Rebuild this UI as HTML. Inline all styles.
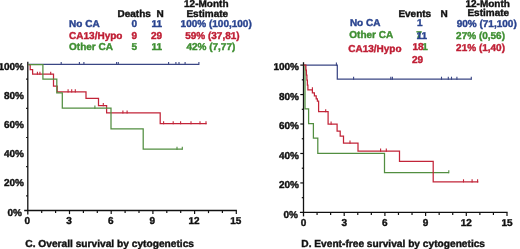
<!DOCTYPE html>
<html><head><meta charset="utf-8"><style>
html,body{margin:0;padding:0;background:#fff;width:520px;height:249px;overflow:hidden;position:relative;font-family:"Liberation Sans", sans-serif;}
</style></head><body>
<svg width="520" height="249" viewBox="0 0 520 249" style="position:absolute;left:0;top:0;font-family:&quot;Liberation Sans&quot;, sans-serif;filter:blur(0.3px)" text-rendering="geometricPrecision">
<text x="117.5" y="16.6" fill="#111" stroke="#111" stroke-width="0.4" font-size="10" font-weight="bold" text-anchor="start" >Deaths</text>
<text x="156.4" y="16.6" fill="#111" stroke="#111" stroke-width="0.4" font-size="10" font-weight="bold" text-anchor="start" >N</text>
<text x="206.3" y="7.0" fill="#111" stroke="#111" stroke-width="0.4" font-size="10" font-weight="bold" text-anchor="middle" >12-Month</text>
<text x="207.3" y="16.6" fill="#111" stroke="#111" stroke-width="0.4" font-size="10" font-weight="bold" text-anchor="middle" >Estimate</text>
<text x="69.1" y="27.4" fill="#29438f" stroke="#29438f" stroke-width="0.4" font-size="10" font-weight="bold" text-anchor="start" >No CA</text>
<text x="131.4" y="27.4" fill="#29438f" stroke="#29438f" stroke-width="0.4" font-size="10" font-weight="bold" text-anchor="start" >0</text>
<text x="151.6" y="27.4" fill="#29438f" stroke="#29438f" stroke-width="0.4" font-size="10" font-weight="bold" text-anchor="start" >11</text>
<text x="180.6" y="27.4" fill="#29438f" stroke="#29438f" stroke-width="0.4" font-size="10" font-weight="bold" text-anchor="start" >100% (100,100)</text>
<text x="69.1" y="38.9" fill="#bf1e34" stroke="#bf1e34" stroke-width="0.4" font-size="10" font-weight="bold" text-anchor="start" >CA13/Hypo</text>
<text x="131.4" y="38.9" fill="#bf1e34" stroke="#bf1e34" stroke-width="0.4" font-size="10" font-weight="bold" text-anchor="start" >9</text>
<text x="151.0" y="38.9" fill="#bf1e34" stroke="#bf1e34" stroke-width="0.4" font-size="10" font-weight="bold" text-anchor="start" >29</text>
<text x="185.2" y="38.9" fill="#bf1e34" stroke="#bf1e34" stroke-width="0.4" font-size="10" font-weight="bold" text-anchor="start" >59% (37,81)</text>
<text x="69.1" y="50.0" fill="#3e8e31" stroke="#3e8e31" stroke-width="0.4" font-size="10" font-weight="bold" text-anchor="start" >Other CA</text>
<text x="131.4" y="50.0" fill="#3e8e31" stroke="#3e8e31" stroke-width="0.4" font-size="10" font-weight="bold" text-anchor="start" >5</text>
<text x="151.6" y="50.0" fill="#3e8e31" stroke="#3e8e31" stroke-width="0.4" font-size="10" font-weight="bold" text-anchor="start" >11</text>
<text x="186.4" y="50.0" fill="#3e8e31" stroke="#3e8e31" stroke-width="0.4" font-size="10" font-weight="bold" text-anchor="start" >42% (7,77)</text>
<line x1="27.8" y1="61.7" x2="27.8" y2="214.5" stroke="#111" stroke-width="1.3"/>
<line x1="24.2" y1="210.5" x2="236.9" y2="210.5" stroke="#111" stroke-width="1.3"/>
<line x1="26.1" y1="195.90" x2="27.8" y2="195.90" stroke="#111" stroke-width="1.2"/>
<line x1="26.1" y1="166.70" x2="27.8" y2="166.70" stroke="#111" stroke-width="1.2"/>
<line x1="26.1" y1="137.50" x2="27.8" y2="137.50" stroke="#111" stroke-width="1.2"/>
<line x1="26.1" y1="108.30" x2="27.8" y2="108.30" stroke="#111" stroke-width="1.2"/>
<line x1="26.1" y1="79.10" x2="27.8" y2="79.10" stroke="#111" stroke-width="1.2"/>
<text x="22.00" y="215.60" fill="#111" stroke="#111" stroke-width="0.4" font-size="10" font-weight="bold" text-anchor="end" >0%</text>
<text x="24.00" y="186.40" fill="#111" stroke="#111" stroke-width="0.4" font-size="10" font-weight="bold" text-anchor="end" >20%</text>
<text x="24.00" y="157.20" fill="#111" stroke="#111" stroke-width="0.4" font-size="10" font-weight="bold" text-anchor="end" >40%</text>
<text x="24.00" y="128.00" fill="#111" stroke="#111" stroke-width="0.4" font-size="10" font-weight="bold" text-anchor="end" >60%</text>
<text x="24.00" y="98.80" fill="#111" stroke="#111" stroke-width="0.4" font-size="10" font-weight="bold" text-anchor="end" >80%</text>
<text x="24.00" y="69.60" fill="#111" stroke="#111" stroke-width="0.4" font-size="10" font-weight="bold" text-anchor="end" >100%</text>
<line x1="41.70" y1="210.5" x2="41.70" y2="213.1" stroke="#111" stroke-width="1.2"/>
<line x1="55.60" y1="210.5" x2="55.60" y2="213.1" stroke="#111" stroke-width="1.2"/>
<line x1="69.50" y1="210.5" x2="69.50" y2="214.1" stroke="#111" stroke-width="1.2"/>
<line x1="83.40" y1="210.5" x2="83.40" y2="213.1" stroke="#111" stroke-width="1.2"/>
<line x1="97.30" y1="210.5" x2="97.30" y2="213.1" stroke="#111" stroke-width="1.2"/>
<line x1="111.20" y1="210.5" x2="111.20" y2="214.1" stroke="#111" stroke-width="1.2"/>
<line x1="125.10" y1="210.5" x2="125.10" y2="213.1" stroke="#111" stroke-width="1.2"/>
<line x1="139.00" y1="210.5" x2="139.00" y2="213.1" stroke="#111" stroke-width="1.2"/>
<line x1="152.90" y1="210.5" x2="152.90" y2="214.1" stroke="#111" stroke-width="1.2"/>
<line x1="166.80" y1="210.5" x2="166.80" y2="213.1" stroke="#111" stroke-width="1.2"/>
<line x1="180.70" y1="210.5" x2="180.70" y2="213.1" stroke="#111" stroke-width="1.2"/>
<line x1="194.60" y1="210.5" x2="194.60" y2="214.1" stroke="#111" stroke-width="1.2"/>
<line x1="208.50" y1="210.5" x2="208.50" y2="213.1" stroke="#111" stroke-width="1.2"/>
<line x1="222.40" y1="210.5" x2="222.40" y2="213.1" stroke="#111" stroke-width="1.2"/>
<line x1="236.30" y1="210.5" x2="236.30" y2="214.1" stroke="#111" stroke-width="1.2"/>
<text x="27.30" y="224.2" fill="#111" stroke="#111" stroke-width="0.4" font-size="10" font-weight="bold" text-anchor="middle" >0</text>
<text x="69.00" y="224.2" fill="#111" stroke="#111" stroke-width="0.4" font-size="10" font-weight="bold" text-anchor="middle" >3</text>
<text x="110.70" y="224.2" fill="#111" stroke="#111" stroke-width="0.4" font-size="10" font-weight="bold" text-anchor="middle" >6</text>
<text x="152.40" y="224.2" fill="#111" stroke="#111" stroke-width="0.4" font-size="10" font-weight="bold" text-anchor="middle" >9</text>
<text x="194.10" y="224.2" fill="#111" stroke="#111" stroke-width="0.4" font-size="10" font-weight="bold" text-anchor="middle" >12</text>
<text x="235.80" y="224.2" fill="#111" stroke="#111" stroke-width="0.4" font-size="10" font-weight="bold" text-anchor="middle" >15</text>
<path d="M28.3,64.4 H199" fill="none" stroke="#3a4684" stroke-width="1.25" stroke-linejoin="miter"/>
<line x1="61.2" y1="65.025" x2="61.2" y2="61.900000000000006" stroke="#3a4684" stroke-width="1.1"/>
<line x1="79.4" y1="65.025" x2="79.4" y2="61.900000000000006" stroke="#3a4684" stroke-width="1.1"/>
<line x1="83.9" y1="65.025" x2="83.9" y2="61.900000000000006" stroke="#3a4684" stroke-width="1.1"/>
<line x1="116.6" y1="65.025" x2="116.6" y2="61.900000000000006" stroke="#3a4684" stroke-width="1.1"/>
<line x1="118.3" y1="65.025" x2="118.3" y2="61.900000000000006" stroke="#3a4684" stroke-width="1.1"/>
<line x1="168.6" y1="65.025" x2="168.6" y2="61.900000000000006" stroke="#3a4684" stroke-width="1.1"/>
<line x1="175.9" y1="65.025" x2="175.9" y2="61.900000000000006" stroke="#3a4684" stroke-width="1.1"/>
<line x1="179.0" y1="65.025" x2="179.0" y2="61.900000000000006" stroke="#3a4684" stroke-width="1.1"/>
<line x1="185.1" y1="65.025" x2="185.1" y2="61.900000000000006" stroke="#3a4684" stroke-width="1.1"/>
<line x1="198.9" y1="65.025" x2="198.9" y2="61.900000000000006" stroke="#3a4684" stroke-width="1.1"/>
<path d="M28.3,64.6 H30.2 V69.6 H32.6 V74.2 H53.5 V86.0 H57.2 V91.8 H86.0 V98.4 H98.5 V105.5 H106.6 V112.9 H160.2 V123.7 H206.6" fill="none" stroke="#c22438" stroke-width="1.25" stroke-linejoin="miter"/>
<line x1="37.4" y1="74.825" x2="37.4" y2="71.7" stroke="#c22438" stroke-width="1.1"/>
<line x1="39.9" y1="74.825" x2="39.9" y2="71.7" stroke="#c22438" stroke-width="1.1"/>
<line x1="50.7" y1="74.825" x2="50.7" y2="71.7" stroke="#c22438" stroke-width="1.1"/>
<line x1="68.1" y1="92.425" x2="68.1" y2="89.3" stroke="#c22438" stroke-width="1.1"/>
<line x1="71.7" y1="92.425" x2="71.7" y2="89.3" stroke="#c22438" stroke-width="1.1"/>
<line x1="75.3" y1="92.425" x2="75.3" y2="89.3" stroke="#c22438" stroke-width="1.1"/>
<line x1="103.3" y1="106.125" x2="103.3" y2="103.0" stroke="#c22438" stroke-width="1.1"/>
<line x1="122.9" y1="113.525" x2="122.9" y2="110.4" stroke="#c22438" stroke-width="1.1"/>
<line x1="127.1" y1="113.525" x2="127.1" y2="110.4" stroke="#c22438" stroke-width="1.1"/>
<line x1="163.6" y1="124.325" x2="163.6" y2="121.2" stroke="#c22438" stroke-width="1.1"/>
<line x1="173.2" y1="124.325" x2="173.2" y2="121.2" stroke="#c22438" stroke-width="1.1"/>
<line x1="180.6" y1="124.325" x2="180.6" y2="121.2" stroke="#c22438" stroke-width="1.1"/>
<line x1="191.0" y1="124.325" x2="191.0" y2="121.2" stroke="#c22438" stroke-width="1.1"/>
<line x1="200.0" y1="124.325" x2="200.0" y2="121.2" stroke="#c22438" stroke-width="1.1"/>
<line x1="206.0" y1="124.325" x2="206.0" y2="121.2" stroke="#c22438" stroke-width="1.1"/>
<path d="M28.3,64.6 H42.9 V79.0 H56.8 V92.8 H62.3 V108.1 H111.0 V128.9 H143.2 V149.2 H182.5" fill="none" stroke="#528e40" stroke-width="1.25" stroke-linejoin="miter"/>
<line x1="94.9" y1="108.725" x2="94.9" y2="105.6" stroke="#528e40" stroke-width="1.1"/>
<line x1="177.0" y1="149.825" x2="177.0" y2="146.7" stroke="#528e40" stroke-width="1.1"/>
<line x1="182.3" y1="149.825" x2="182.3" y2="146.7" stroke="#528e40" stroke-width="1.1"/>
<text x="25.3" y="246.9" fill="#111" stroke="#111" stroke-width="0.4" font-size="10.2" font-weight="bold" text-anchor="start" >C. Overall survival by cytogenetics</text>
<text x="398.4" y="16.6" fill="#111" stroke="#111" stroke-width="0.4" font-size="10" font-weight="bold" text-anchor="start" >Events</text>
<text x="440.4" y="16.6" fill="#111" stroke="#111" stroke-width="0.4" font-size="10" font-weight="bold" text-anchor="start" >N</text>
<text x="487.7" y="7.1" fill="#111" stroke="#111" stroke-width="0.4" font-size="10" font-weight="bold" text-anchor="middle" >12-Month</text>
<text x="488.3" y="16.4" fill="#111" stroke="#111" stroke-width="0.4" font-size="10" font-weight="bold" text-anchor="middle" >Estimate</text>
<text x="349.9" y="26.3" fill="#29438f" stroke="#29438f" stroke-width="0.4" font-size="10" font-weight="bold" text-anchor="start" >No CA</text>
<text x="417.1" y="26.3" fill="#29438f" stroke="#29438f" stroke-width="0.4" font-size="10" font-weight="bold" text-anchor="start" >1</text>
<text x="456.7" y="26.6" fill="#29438f" stroke="#29438f" stroke-width="0.4" font-size="10" font-weight="bold" text-anchor="start" >90% (71,100)</text>
<text x="349.3" y="37.6" fill="#3e8e31" stroke="#3e8e31" stroke-width="0.4" font-size="10" font-weight="bold" text-anchor="start" >Other CA</text>
<text x="416.3" y="38.4" fill="#3e8e31" stroke="#3e8e31" stroke-width="0.4" font-size="10" font-weight="bold" text-anchor="start" >7</text>
<text x="416.5" y="38.6" fill="#29438f" stroke="#29438f" stroke-width="0.4" font-size="10" font-weight="bold" text-anchor="start" >11</text>
<text x="456.1" y="39.1" fill="#3e8e31" stroke="#3e8e31" stroke-width="0.4" font-size="10" font-weight="bold" text-anchor="start" >27% (0,56)</text>
<text x="348.2" y="51.6" fill="#bf1e34" stroke="#bf1e34" stroke-width="0.4" font-size="10" font-weight="bold" text-anchor="start" >CA13/Hypo</text>
<text x="422.3" y="49.6" fill="#3e8e31" stroke="#3e8e31" stroke-width="0.4" font-size="10" font-weight="bold" text-anchor="start" >1</text>
<text x="412.4" y="50.4" fill="#bf1e34" stroke="#bf1e34" stroke-width="0.4" font-size="10" font-weight="bold" text-anchor="start" >18</text>
<text x="456.1" y="51.2" fill="#bf1e34" stroke="#bf1e34" stroke-width="0.4" font-size="10" font-weight="bold" text-anchor="start" >21% (1,40)</text>
<text x="411.9" y="63.0" fill="#bf1e34" stroke="#bf1e34" stroke-width="0.4" font-size="10" font-weight="bold" text-anchor="start" >29</text>
<line x1="303.5" y1="62.2" x2="303.5" y2="216.4" stroke="#111" stroke-width="1.3"/>
<line x1="299.9" y1="212.4" x2="507.6" y2="212.4" stroke="#111" stroke-width="1.3"/>
<line x1="301.8" y1="197.67" x2="303.5" y2="197.67" stroke="#111" stroke-width="1.2"/>
<line x1="300.3" y1="182.94" x2="303.5" y2="182.94" stroke="#111" stroke-width="1.2"/>
<line x1="301.8" y1="168.21" x2="303.5" y2="168.21" stroke="#111" stroke-width="1.2"/>
<line x1="300.3" y1="153.48" x2="303.5" y2="153.48" stroke="#111" stroke-width="1.2"/>
<line x1="301.8" y1="138.75" x2="303.5" y2="138.75" stroke="#111" stroke-width="1.2"/>
<line x1="300.3" y1="124.02" x2="303.5" y2="124.02" stroke="#111" stroke-width="1.2"/>
<line x1="301.8" y1="109.29" x2="303.5" y2="109.29" stroke="#111" stroke-width="1.2"/>
<line x1="300.3" y1="94.56" x2="303.5" y2="94.56" stroke="#111" stroke-width="1.2"/>
<line x1="301.8" y1="79.83" x2="303.5" y2="79.83" stroke="#111" stroke-width="1.2"/>
<line x1="300.3" y1="65.10" x2="303.5" y2="65.10" stroke="#111" stroke-width="1.2"/>
<text x="298.00" y="217.50" fill="#111" stroke="#111" stroke-width="0.4" font-size="10" font-weight="bold" text-anchor="end" >0%</text>
<text x="299.00" y="188.04" fill="#111" stroke="#111" stroke-width="0.4" font-size="10" font-weight="bold" text-anchor="end" >20%</text>
<text x="299.00" y="158.58" fill="#111" stroke="#111" stroke-width="0.4" font-size="10" font-weight="bold" text-anchor="end" >40%</text>
<text x="299.00" y="129.12" fill="#111" stroke="#111" stroke-width="0.4" font-size="10" font-weight="bold" text-anchor="end" >60%</text>
<text x="299.00" y="99.66" fill="#111" stroke="#111" stroke-width="0.4" font-size="10" font-weight="bold" text-anchor="end" >80%</text>
<text x="299.00" y="70.20" fill="#111" stroke="#111" stroke-width="0.4" font-size="10" font-weight="bold" text-anchor="end" >100%</text>
<line x1="317.07" y1="212.4" x2="317.07" y2="215.0" stroke="#111" stroke-width="1.2"/>
<line x1="330.63" y1="212.4" x2="330.63" y2="215.0" stroke="#111" stroke-width="1.2"/>
<line x1="344.20" y1="212.4" x2="344.20" y2="216.0" stroke="#111" stroke-width="1.2"/>
<line x1="357.77" y1="212.4" x2="357.77" y2="215.0" stroke="#111" stroke-width="1.2"/>
<line x1="371.33" y1="212.4" x2="371.33" y2="215.0" stroke="#111" stroke-width="1.2"/>
<line x1="384.90" y1="212.4" x2="384.90" y2="216.0" stroke="#111" stroke-width="1.2"/>
<line x1="398.47" y1="212.4" x2="398.47" y2="215.0" stroke="#111" stroke-width="1.2"/>
<line x1="412.03" y1="212.4" x2="412.03" y2="215.0" stroke="#111" stroke-width="1.2"/>
<line x1="425.60" y1="212.4" x2="425.60" y2="216.0" stroke="#111" stroke-width="1.2"/>
<line x1="439.17" y1="212.4" x2="439.17" y2="215.0" stroke="#111" stroke-width="1.2"/>
<line x1="452.73" y1="212.4" x2="452.73" y2="215.0" stroke="#111" stroke-width="1.2"/>
<line x1="466.30" y1="212.4" x2="466.30" y2="216.0" stroke="#111" stroke-width="1.2"/>
<line x1="479.87" y1="212.4" x2="479.87" y2="215.0" stroke="#111" stroke-width="1.2"/>
<line x1="493.43" y1="212.4" x2="493.43" y2="215.0" stroke="#111" stroke-width="1.2"/>
<line x1="507.00" y1="212.4" x2="507.00" y2="216.0" stroke="#111" stroke-width="1.2"/>
<text x="303.50" y="226.0" fill="#111" stroke="#111" stroke-width="0.4" font-size="10" font-weight="bold" text-anchor="middle" >0</text>
<text x="344.20" y="226.0" fill="#111" stroke="#111" stroke-width="0.4" font-size="10" font-weight="bold" text-anchor="middle" >3</text>
<text x="384.90" y="226.0" fill="#111" stroke="#111" stroke-width="0.4" font-size="10" font-weight="bold" text-anchor="middle" >6</text>
<text x="425.60" y="226.0" fill="#111" stroke="#111" stroke-width="0.4" font-size="10" font-weight="bold" text-anchor="middle" >9</text>
<text x="466.30" y="226.0" fill="#111" stroke="#111" stroke-width="0.4" font-size="10" font-weight="bold" text-anchor="middle" >12</text>
<text x="507.00" y="226.0" fill="#111" stroke="#111" stroke-width="0.4" font-size="10" font-weight="bold" text-anchor="middle" >15</text>
<path d="M303.9,65.0 H337.3 V79.2 H471.5" fill="none" stroke="#3a4684" stroke-width="1.25" stroke-linejoin="miter"/>
<line x1="336.4" y1="65.625" x2="336.4" y2="62.5" stroke="#3a4684" stroke-width="1.1"/>
<line x1="353.6" y1="79.825" x2="353.6" y2="76.7" stroke="#3a4684" stroke-width="1.1"/>
<line x1="390.8" y1="79.825" x2="390.8" y2="76.7" stroke="#3a4684" stroke-width="1.1"/>
<line x1="392.4" y1="79.825" x2="392.4" y2="76.7" stroke="#3a4684" stroke-width="1.1"/>
<line x1="441.5" y1="79.825" x2="441.5" y2="76.7" stroke="#3a4684" stroke-width="1.1"/>
<line x1="448.3" y1="79.825" x2="448.3" y2="76.7" stroke="#3a4684" stroke-width="1.1"/>
<line x1="451.5" y1="79.825" x2="451.5" y2="76.7" stroke="#3a4684" stroke-width="1.1"/>
<line x1="456.9" y1="79.825" x2="456.9" y2="76.7" stroke="#3a4684" stroke-width="1.1"/>
<line x1="471.3" y1="79.825" x2="471.3" y2="76.7" stroke="#3a4684" stroke-width="1.1"/>
<path d="M303.9,65.2 H305.0 V108.9 H308.6 V123.6 H313.4 V138.0 H317.8 V153.4 H384.5 V172.7 H449.0" fill="none" stroke="#528e40" stroke-width="1.25" stroke-linejoin="miter"/>
<line x1="448.8" y1="173.325" x2="448.8" y2="170.2" stroke="#528e40" stroke-width="1.1"/>
<path d="M303.9,65.2 H305.9 V70 H306.4 V75 H306.9 V80 H307.4 V85 H307.9 V89.8 H312.4 V92.8 H314.4 V95.8 H316.2 V98.8 H317.4 V101.2 H318.6 V111.7 H328.1 V124.1 H337.1 V131.1 H340.2 V136.1 H343.5 V143.0 H358.0 V151.0 H399.5 V161.3 H433.2 V181.8 H478.3" fill="none" stroke="#c22438" stroke-width="1.25" stroke-linejoin="miter"/>
<line x1="312.4" y1="90.425" x2="312.4" y2="87.3" stroke="#c22438" stroke-width="1.1"/>
<line x1="325.7" y1="112.325" x2="325.7" y2="109.2" stroke="#c22438" stroke-width="1.1"/>
<line x1="331.1" y1="124.725" x2="331.1" y2="121.6" stroke="#c22438" stroke-width="1.1"/>
<line x1="350.0" y1="143.725" x2="350.0" y2="140.6" stroke="#c22438" stroke-width="1.1"/>
<line x1="380.6" y1="151.625" x2="380.6" y2="148.5" stroke="#c22438" stroke-width="1.1"/>
<line x1="386.3" y1="151.625" x2="386.3" y2="148.5" stroke="#c22438" stroke-width="1.1"/>
<line x1="463.5" y1="182.425" x2="463.5" y2="179.3" stroke="#c22438" stroke-width="1.1"/>
<line x1="472.1" y1="182.425" x2="472.1" y2="179.3" stroke="#c22438" stroke-width="1.1"/>
<line x1="477.6" y1="182.425" x2="477.6" y2="179.3" stroke="#c22438" stroke-width="1.1"/>
<text x="301.3" y="246.9" fill="#111" stroke="#111" stroke-width="0.4" font-size="10.18" font-weight="bold" text-anchor="start" >D. Event-free survival by cytogenetics</text>
</svg>
</body></html>
